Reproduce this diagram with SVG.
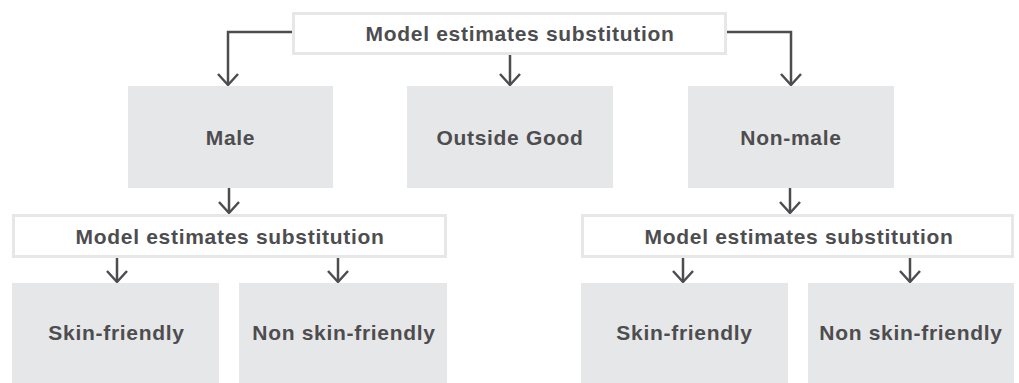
<svg xmlns="http://www.w3.org/2000/svg" width="1019" height="383" viewBox="0 0 1019 383">
  <defs>
    <style>
      .grey { fill: #e6e7e8; }
      .outline { fill: #ffffff; stroke: #e6e7e8; stroke-width: 3; }
      .lbl { font-family: "Liberation Sans", Arial, sans-serif; font-weight: bold; font-size: 21px; fill: #4d4d4f; text-anchor: middle; letter-spacing: 0.7px; }
      .conn { fill: none; stroke: #4d4d4f; stroke-width: 2.5; marker-end: url(#chev); }
    </style>
    <marker id="chev" markerUnits="userSpaceOnUse" viewBox="-13 -12 15 24" refX="0" refY="0" markerWidth="15" markerHeight="24" orient="auto">
      <path d="M-11,-10 L0,0 L-11,10" fill="none" stroke="#4d4d4f" stroke-width="2.5"/>
    </marker>
  </defs>
  <rect width="1019" height="383" fill="#ffffff"/>

  <g id="connectors">
    <path class="conn" d="M292,32 H228 V85"/>
    <path class="conn" d="M510,55 V85"/>
    <path class="conn" d="M727,32 H791 V85"/>
    <path class="conn" d="M229,188 V213"/>
    <path class="conn" d="M790,188 V213"/>
    <path class="conn" d="M117,258 V282"/>
    <path class="conn" d="M338,258 V282"/>
    <path class="conn" d="M683,258 V282"/>
    <path class="conn" d="M910,258 V282"/>
  </g>

  <g id="model-top">
    <rect class="outline" x="293.5" y="13.5" width="432" height="40"/>
    <text class="lbl" x="520" y="41">Model estimates substitution</text>
  </g>

  <g id="male">
    <rect class="grey" x="128" y="86" width="205" height="102"/>
    <text class="lbl" x="230.5" y="144.5">Male</text>
  </g>
  <g id="outside-good">
    <rect class="grey" x="407" y="86" width="206" height="102"/>
    <text class="lbl" x="510" y="144.5">Outside Good</text>
  </g>
  <g id="non-male">
    <rect class="grey" x="688" y="86" width="206" height="102"/>
    <text class="lbl" x="791" y="144.5">Non-male</text>
  </g>

  <g id="model-left">
    <rect class="outline" x="13.5" y="215.5" width="432" height="41"/>
    <text class="lbl" x="230" y="243.5">Model estimates substitution</text>
  </g>
  <g id="model-right">
    <rect class="outline" x="582.5" y="215.5" width="430" height="41"/>
    <text class="lbl" x="799" y="243.5">Model estimates substitution</text>
  </g>

  <g id="male-skin">
    <rect class="grey" x="12" y="283" width="207" height="100"/>
    <text class="lbl" x="116.5" y="340">Skin-friendly</text>
  </g>
  <g id="male-nonskin">
    <rect class="grey" x="239" y="283" width="208" height="100"/>
    <text class="lbl" x="344" y="340">Non skin-friendly</text>
  </g>
  <g id="nonmale-skin">
    <rect class="grey" x="581" y="283" width="207" height="100"/>
    <text class="lbl" x="684.5" y="340">Skin-friendly</text>
  </g>
  <g id="nonmale-nonskin">
    <rect class="grey" x="808" y="283" width="206" height="100"/>
    <text class="lbl" x="911" y="340">Non skin-friendly</text>
  </g>
</svg>
